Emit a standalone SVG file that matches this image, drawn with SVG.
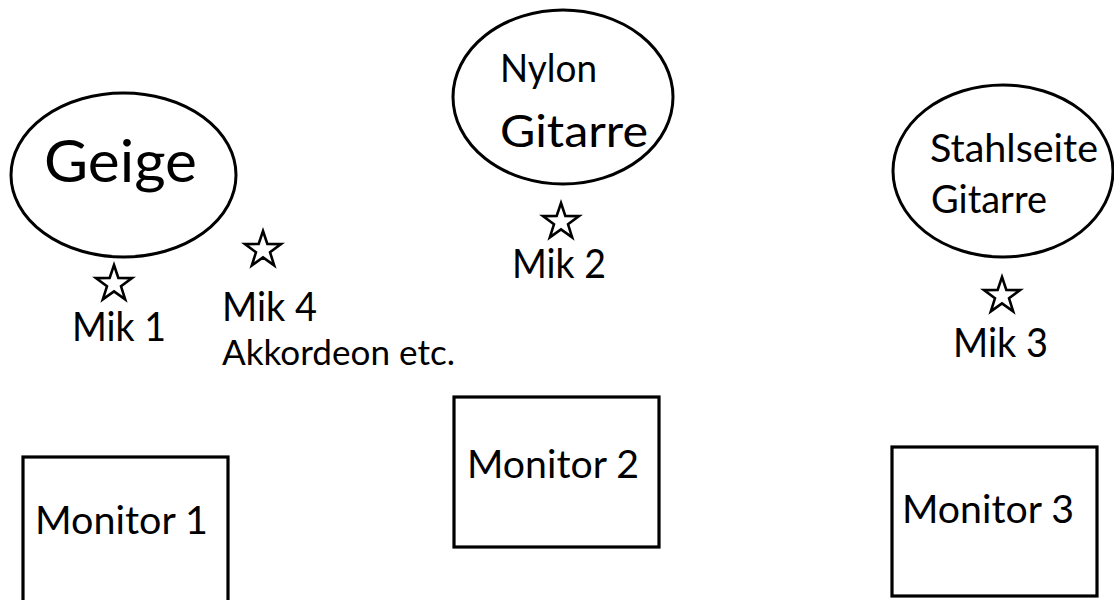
<svg xmlns="http://www.w3.org/2000/svg" xmlns:xlink="http://www.w3.org/1999/xlink" width="1114" height="600" viewBox="0 0 1114 600">
<style>
.shape{fill:#fff;stroke:#000;stroke-width:3}
.box{fill:#fff;stroke:#000;stroke-width:3.2}
.star{fill:none;stroke:#000;stroke-width:2.6;stroke-linejoin:miter}
text{font-family:Lato,"Open Sans","Liberation Sans",sans-serif;fill:#000}
</style>
<defs>
<path id="star" class="star" d="M0,-19 L4.34,-5.97 L18.07,-5.87 L7.03,2.28 L11.17,15.37 L0,7.4 L-11.17,15.37 L-7.03,2.28 L-18.07,-5.87 L-4.34,-5.97 Z"/>
</defs>
<rect width="1114" height="600" fill="#fff"/>
<g id="connectors"/>
<g id="geige">
<ellipse class="shape" cx="123.5" cy="175" rx="112.5" ry="82"/>
<text x="44" y="182" font-size="59" textLength="153" lengthAdjust="spacingAndGlyphs">Geige</text>
</g>
<g id="nylon">
<ellipse class="shape" cx="563" cy="97" rx="110" ry="87"/>
<text x="500" y="82" font-size="39" textLength="97" lengthAdjust="spacingAndGlyphs">Nylon</text>
<text x="500" y="147" font-size="45" textLength="148" lengthAdjust="spacingAndGlyphs">Gitarre</text>
</g>
<g id="stahl">
<ellipse class="shape" cx="1003" cy="171" rx="110" ry="86"/>
<text x="930" y="162" font-size="38" textLength="168" lengthAdjust="spacingAndGlyphs">Stahlseite</text>
<text x="931" y="213" font-size="38" textLength="116" lengthAdjust="spacingAndGlyphs">Gitarre</text>
</g>
<g id="mik1">
<use xlink:href="#star" href="#star" transform="translate(114,284)"/>
<text x="72" y="341" font-size="40" textLength="94" lengthAdjust="spacingAndGlyphs">Mik 1</text>
</g>
<g id="mik4">
<use xlink:href="#star" href="#star" transform="translate(263,250)"/>
<text x="222" y="321" font-size="40" textLength="95" lengthAdjust="spacingAndGlyphs">Mik 4</text>
<text x="222" y="365" font-size="35" textLength="233" lengthAdjust="spacingAndGlyphs">Akkordeon etc.</text>
</g>
<g id="mik2">
<use xlink:href="#star" href="#star" transform="translate(561,222)"/>
<text x="512" y="278" font-size="40" textLength="94" lengthAdjust="spacingAndGlyphs">Mik 2</text>
</g>
<g id="mik3">
<use xlink:href="#star" href="#star" transform="translate(1002,296)"/>
<text x="953" y="357" font-size="40" textLength="95" lengthAdjust="spacingAndGlyphs">Mik 3</text>
</g>
<g id="monitor1">
<rect class="box" x="23" y="457" width="205" height="160"/>
<text x="35" y="534" font-size="39" textLength="173" lengthAdjust="spacingAndGlyphs">Monitor 1</text>
</g>
<g id="monitor2">
<rect class="box" x="454" y="397" width="205" height="150"/>
<text x="467" y="478" font-size="39" textLength="172" lengthAdjust="spacingAndGlyphs">Monitor 2</text>
</g>
<g id="monitor3">
<rect class="box" x="892" y="447" width="205" height="149"/>
<text x="902" y="523" font-size="39" textLength="172" lengthAdjust="spacingAndGlyphs">Monitor 3</text>
</g>
</svg>
